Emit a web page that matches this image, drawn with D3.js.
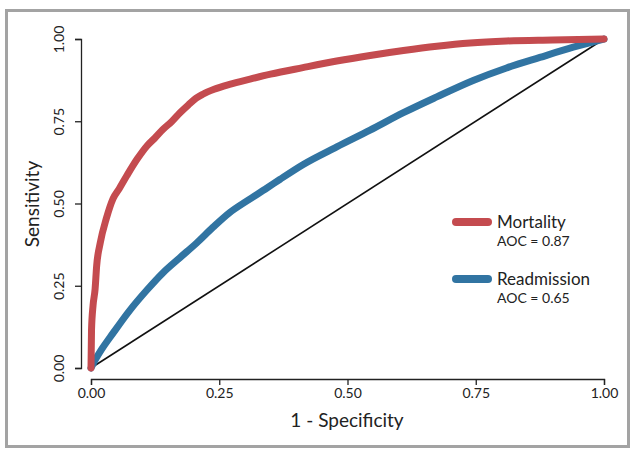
<!DOCTYPE html>
<html>
<head>
<meta charset="utf-8">
<script src="https://cdn.jsdelivr.net/npm/d3@7"></script>
<style>
  body { margin: 0; background: #fff; }
  svg text { font-family: Lato, "Open Sans", sans-serif; fill: #222; }
</style>
</head>
<body>
<svg class="roc" width="631" height="451"></svg>
<script>
// ROC points: [1 - specificity, sensitivity]
let mortality = [[0,0],[0.001,0.115],[0.004,0.19],[0.008,0.24],[0.011,0.31],[0.018,0.38],[0.03,0.455],
  [0.043,0.515],[0.055,0.545],[0.07,0.585],[0.09,0.635],[0.109,0.675],[0.125,0.70],[0.14,0.725],
  [0.158,0.75],[0.173,0.775],[0.19,0.80],[0.205,0.82],[0.218,0.832],[0.24,0.847],[0.27,0.862],
  [0.31,0.878],[0.35,0.893],[0.413,0.913],[0.479,0.933],[0.544,0.95],[0.609,0.965],[0.674,0.978],
  [0.739,0.988],[0.81,0.994],[0.9,0.997],[1,1]];
let readmission = [[0,0],[0.008,0.024],[0.02,0.055],[0.043,0.106],[0.076,0.176],[0.109,0.237],
  [0.14,0.289],[0.173,0.335],[0.206,0.38],[0.238,0.428],[0.27,0.472],[0.304,0.508],[0.343,0.547],
  [0.368,0.573],[0.413,0.618],[0.479,0.672],[0.544,0.723],[0.609,0.776],[0.674,0.824],[0.745,0.874],
  [0.81,0.912],[0.875,0.944],[0.94,0.975],[1,1]];
let chance = [[0,0],[1,1]];
let tickValues = [0, 0.25, 0.5, 0.75, 1];
let seriesNames = ["Mortality", "Readmission"];
let aocLabels = ["AOC = 0.87", "AOC = 0.65"];
let colors = ["#c44b4f", "#3174a2"];

let svg = d3.select("svg.roc");

// grey frame
svg.append("rect")
  .attr("x", 6.5).attr("y", 10.5)
  .attr("width", 622).attr("height", 436)
  .attr("fill", "none")
  .attr("stroke", "#a3a3a3")
  .attr("stroke-width", 3);

let x = d3.scaleLinear().domain([0, 1]).range([91, 604]);
let y = d3.scaleLinear().domain([0, 1]).range([368, 39]);

// axes are offset from the data area, R style
let xAxis = d3.axisBottom(x).tickValues(tickValues).tickFormat(d3.format(".2f")).tickSizeOuter(0).tickSize(6).tickPadding(3);
let yAxis = d3.axisLeft(y).tickValues(tickValues).tickFormat(d3.format(".2f")).tickSizeOuter(0).tickSize(6).tickPadding(4);

let xGroup = svg.append("g").attr("transform", translate(0, 379)).call(xAxis);
let yGroup = svg.append("g").attr("transform", translate(81, 0)).call(yAxis);

[xGroup, yGroup].forEach(g => {
  g.select(".domain").attr("stroke", "#222").attr("stroke-width", 1.3);
  g.selectAll(".tick line").attr("stroke", "#222").attr("stroke-width", 1.3);
  g.selectAll("text").style("font-size", "14px").attr("fill", "#2a2a2a");
});
// y tick labels run bottom to top
yGroup.selectAll(".tick text")
  .attr("x", null).attr("dy", null)
  .attr("text-anchor", "middle")
  .attr("transform", "translate(-17,0) rotate(-90)")
  .attr("dy", "0em");

// axis titles
svg.append("text")
  .attr("transform", translate(347, 427))
  .attr("text-anchor", "middle")
  .style("font-size", "19px")
  .text("1 - Specificity");
svg.append("text")
  .attr("transform", translate(39, 204) + " rotate(-90)")
  .attr("text-anchor", "middle")
  .style("font-size", "19px")
  .text("Sensitivity");

let line = d3.line()
  .x(d => x(d[0]))
  .y(d => y(d[1]))
  .curve(d3.curveMonotoneX);

svg.append("path")
  .datum(chance)
  .attr("d", d3.line().x(d => x(d[0])).y(d => y(d[1])))
  .attr("stroke", "#111")
  .attr("stroke-width", 1.6)
  .attr("fill", "none");

[readmission, mortality].forEach((s, i) => {
  svg.append("path")
    .datum(s)
    .attr("d", line)
    .attr("fill", "none")
    .attr("stroke", colors[1 - i])
    .attr("stroke-width", 7)
    .attr("stroke-linecap", "round")
    .attr("stroke-linejoin", "round");
});

// legend
let legend = svg.append("g");
seriesNames.forEach((name, i) => {
  let ly = 222 + i * 57;
  legend.append("line")
    .attr("x1", 456).attr("x2", 488)
    .attr("y1", ly).attr("y2", ly)
    .attr("stroke", colors[i])
    .attr("stroke-width", 8)
    .attr("stroke-linecap", "round");
  legend.append("text")
    .attr("x", 497).attr("y", ly + 6)
    .style("font-size", "17px")
    .attr("fill", "#2a2a2a")
    .text(name);
  legend.append("text")
    .attr("x", 497).attr("y", ly + 24)
    .style("font-size", "14px")
    .attr("fill", "#2a2a2a")
    .text(aocLabels[i]);
});

function translate(x, y) {
  return 'translate(' + x + ',' + y + ')';
}
</script>
</body>
</html>
